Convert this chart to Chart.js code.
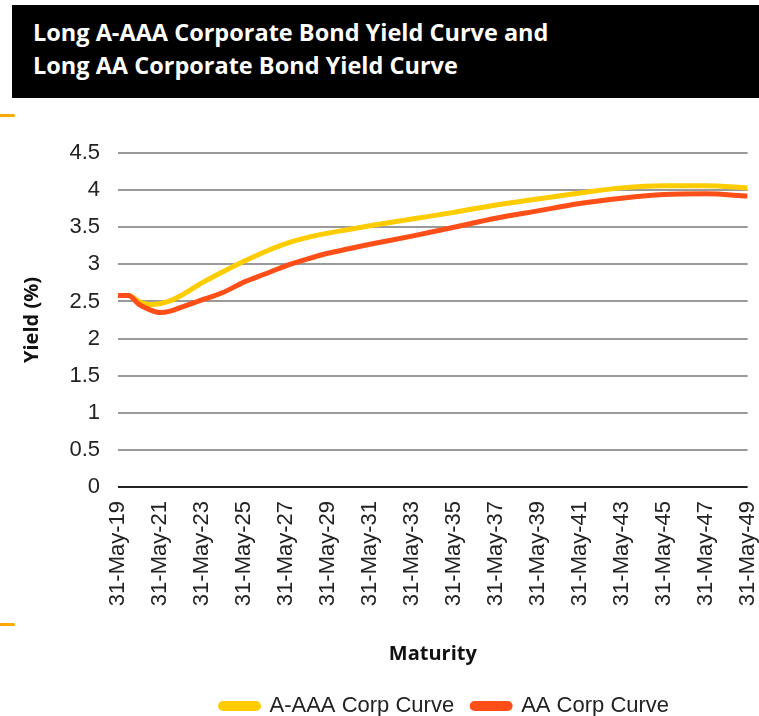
<!DOCTYPE html>
<html>
<head>
<meta charset="utf-8">
<script src="https://cdn.jsdelivr.net/npm/chart.js@4.4.1/dist/chart.umd.min.js"></script>
<style>
  body { margin: 0; background: #fff; }
  #page { position: relative; width: 759px; height: 716px; overflow: hidden; }
  #title {
    position: absolute; left: 12px; top: 5px; width: 747px; height: 93px;
    background: #000; color: #fff; box-sizing: border-box;
    padding: 11px 0 0 21px;
    font: bold 23.5px "Open Sans", sans-serif; line-height: 33px;
  }
  .mark { position: absolute; left: 0; width: 15px; height: 3px; background: #ffa800; border-radius: 0 2px 2px 0; }
  #wrap { position: absolute; left: 0; top: 100px; width: 780px; height: 616px; }
</style>
</head>
<body>
<div id="page">
  <div id="title">Long A-AAA Corporate Bond Yield Curve and<br>Long AA Corporate Bond Yield Curve</div>
  <div class="mark" style="top:114px"></div>
  <div class="mark" style="top:623px"></div>
  <div id="wrap"><canvas id="yield_chart"></canvas></div>
</div>
<script>
// maturity in years (31 May of each year), yields in %
var maturity = [2019, 2019.5, 2020, 2020.5, 2021, 2021.5, 2022, 2023, 2024, 2025, 2026, 2027, 2028, 2029, 2030,
                2031, 2033, 2035, 2037, 2039, 2041, 2043, 2045, 2047, 2049];
var aaaYield = [2.58, 2.58, 2.50, 2.46, 2.47, 2.51, 2.58, 2.75, 2.90, 3.04, 3.17, 3.28, 3.36, 3.42, 3.47,
                3.52, 3.61, 3.70, 3.80, 3.88, 3.96, 4.03, 4.06, 4.06, 4.03];
var aaYield  = [2.58, 2.58, 2.46, 2.39, 2.35, 2.37, 2.42, 2.52, 2.62, 2.76, 2.87, 2.98, 3.07, 3.15, 3.21,
                3.27, 3.38, 3.50, 3.62, 3.72, 3.82, 3.89, 3.94, 3.95, 3.92];
var tickYears = [2019, 2021, 2023, 2025, 2027, 2029, 2031, 2033, 2035, 2037, 2039, 2041, 2043, 2045, 2047, 2049];
var tickLabels = ['31-May-19', '31-May-21', '31-May-23', '31-May-25', '31-May-27', '31-May-29', '31-May-31', '31-May-33',
                  '31-May-35', '31-May-37', '31-May-39', '31-May-41', '31-May-43', '31-May-45', '31-May-47', '31-May-49'];

function points(values) {
    return maturity.map(function(m, i) { return { x: m, y: values[i] }; });
}

// nudge the legend a bit to the right, like the original
var legendShift = {
    id: 'legendShift',
    afterLayout: function(chart) {
        chart.legend.left += 12;
        chart.legend.right += 12;
    }
};

var ctx = document.getElementById('yield_chart').getContext('2d');
new Chart(ctx, {
    type: 'line',
    data: {
        datasets: [{
            label: 'A-AAA Corp Curve',
            data: points(aaaYield),
            borderColor: '#ffcc00',
            backgroundColor: '#ffcc00',
            order: 1
        }, {
            label: 'AA Corp Curve',
            data: points(aaYield),
            borderColor: '#ff4e17',
            backgroundColor: '#ff4e17',
            order: 0
        }]
    },
    plugins: [legendShift],
    options: {
        responsive: true,
        maintainAspectRatio: false,
        animation: false,
        layout: { padding: { left: 20, right: -6, top: 53, bottom: -11 } },
        elements: {
            line: { borderWidth: 5, cubicInterpolationMode: 'monotone' },
            point: { radius: 0 }
        },
        scales: {
            x: {
                type: 'linear',
                min: 2019,
                max: 2049,
                afterBuildTicks: function(scale) {
                    scale.ticks = tickYears.map(function(v) { return { value: v }; });
                },
                afterFit: function(scale) { scale.height = 190; },
                grid: { display: false },
                border: { display: false },
                ticks: {
                    autoSkip: false,
                    minRotation: 90,
                    maxRotation: 90,
                    padding: 6,
                    color: '#222',
                    font: { family: 'Liberation Sans', size: 22 },
                    callback: function(value, index) { return tickLabels[index]; }
                },
                title: {
                    display: true,
                    text: 'Maturity',
                    color: '#111',
                    padding: { top: 0, bottom: 11 },
                    font: { family: 'Open Sans', size: 20, weight: 'bold' }
                }
            },
            y: {
                min: 0,
                max: 4.5,
                afterFit: function(scale) { scale.width = 98; },
                border: { display: false },
                grid: {
                    drawTicks: false,
                    lineWidth: 2,
                    color: function(c) { return c.tick && c.tick.value === 0 ? '#222' : '#999'; }
                },
                ticks: {
                    stepSize: 0.5,
                    padding: 18,
                    color: '#222',
                    font: { family: 'Liberation Sans', size: 22 },
                    callback: function(value) { return String(+value.toFixed(1)); }
                },
                title: {
                    display: true,
                    text: 'Yield (%)',
                    color: '#111',
                    padding: 0,
                    font: { family: 'Open Sans', size: 20, weight: 'bold' }
                }
            }
        },
        plugins: {
            legend: {
                position: 'bottom',
                fullSize: false,
                labels: {
                    boxWidth: 38,
                    boxHeight: 5,
                    useBorderRadius: true,
                    borderRadius: 2.5,
                    padding: 18,
                    color: '#222',
                    font: { family: 'Liberation Sans', size: 22 },
                    sort: function(a, b) { return a.datasetIndex - b.datasetIndex; }
                }
            },
            tooltip: { enabled: false }
        }
    }
});
</script>
</body>
</html>
